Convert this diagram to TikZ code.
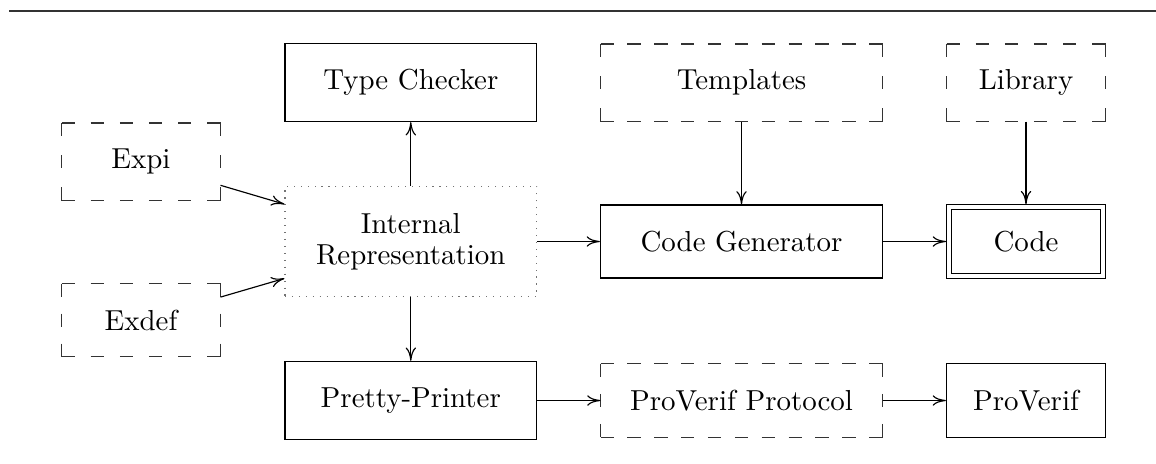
\documentclass[tikz,border=0pt]{standalone}
\usetikzlibrary{arrows.meta}
\begin{document}
\tikzset{
  solidbox/.style={draw, inner sep=0pt},
  dashbox/.style={inner sep=0pt, outer sep=0pt},
  dashside/.style={draw=black!80, line width=0.45pt},
  dotbox/.style={draw=black!55, inner sep=0pt, dotted},
  dblbox/.style={draw, inner sep=0pt, double, double distance=1.33pt, outer sep=1.07pt},
  sz/.style 2 args={minimum width=#1*0.346pt, minimum height=#2*0.346pt},
  arr/.style={-{Computer Modern Rightarrow[length=4.6pt,width=3.6pt]}},
}
% #1 node name, #2 width px, #3 height px, #4 dashes per horizontal side, #5 per vertical side
\newcommand\dashframe[5]{%
  \pgfmathsetmacro\dfgx{(#2*0.346-#4*4.6)/(#4-1)}%
  \pgfmathsetmacro\dfgy{(#3*0.346-#5*4.6)/(#5-1)}%
  \draw[dashside, dash pattern=on 4.6pt off \dfgx pt] (#1.north west) -- (#1.north east);
  \draw[dashside, dash pattern=on 4.6pt off \dfgx pt] (#1.south west) -- (#1.south east);
  \draw[dashside, dash pattern=on 4.6pt off \dfgy pt] (#1.north west) -- (#1.south west);
  \draw[dashside, dash pattern=on 4.6pt off \dfgy pt] (#1.north east) -- (#1.south east);
}
\begin{tikzpicture}[x=0.346pt,y=-0.346pt]
\useasboundingbox (0,0) rectangle (1156,463);
\draw[black!80] (9,11) -- (1156,11);
\node[dashbox, sz={159}{77.5}] (expi) at (141,161.8) {Expi};
\node[dashbox, sz={159}{73}] (exdef) at (141,320.3) {Exdef};
\node[solidbox, sz={251.5}{77.7}] (tc) at (410.8,82.7) {Type Checker};
\node[dotbox, sz={251.5}{110.3}, align=center, font=\fontsize{10pt}{10.7pt}\selectfont] (ir) at (410.8,241.5) {Internal\\Representation};
\node[solidbox, sz={251.5}{78.3}] (pp) at (410.8,400.5) {Pretty-Printer};
\node[dashbox, sz={282}{77.7}] (tpl) at (741.5,82.7) {Templates};
\node[solidbox, sz={282}{73}] (cg) at (741.5,241.5) {Code Generator};
\node[dashbox, sz={282}{73.4}] (pvp) at (741.5,400.5) {ProVerif Protocol};
\node[dashbox, sz={159}{77.7}] (lib) at (1026,82.7) {Library};
\node[dblbox, sz={153.8}{68.4}] (code) at (1026,241.5) {Code};
\node[solidbox, sz={159}{73.7}] (pv) at (1026,400.5) {ProVerif};
\dashframe{expi}{159}{77.5}{6}{3}
\dashframe{exdef}{159}{73}{6}{3}
\dashframe{tpl}{282}{77.7}{11}{3}
\dashframe{pvp}{282}{73.4}{11}{3}
\dashframe{lib}{159}{77.7}{6}{3}
\draw[arr] (expi) -- (ir);
\draw[arr] (exdef) -- (ir);
\draw[arr] (ir) -- (tc);
\draw[arr] (ir) -- (pp);
\draw[arr] (ir) -- (cg);
\draw[arr] (tpl) -- (cg);
\draw[arr] (cg) -- (code);
\draw[arr] (lib) -- (code);
\draw[arr] (pp) -- (pvp);
\draw[arr] (pvp) -- (pv);
\end{tikzpicture}
\end{document}
